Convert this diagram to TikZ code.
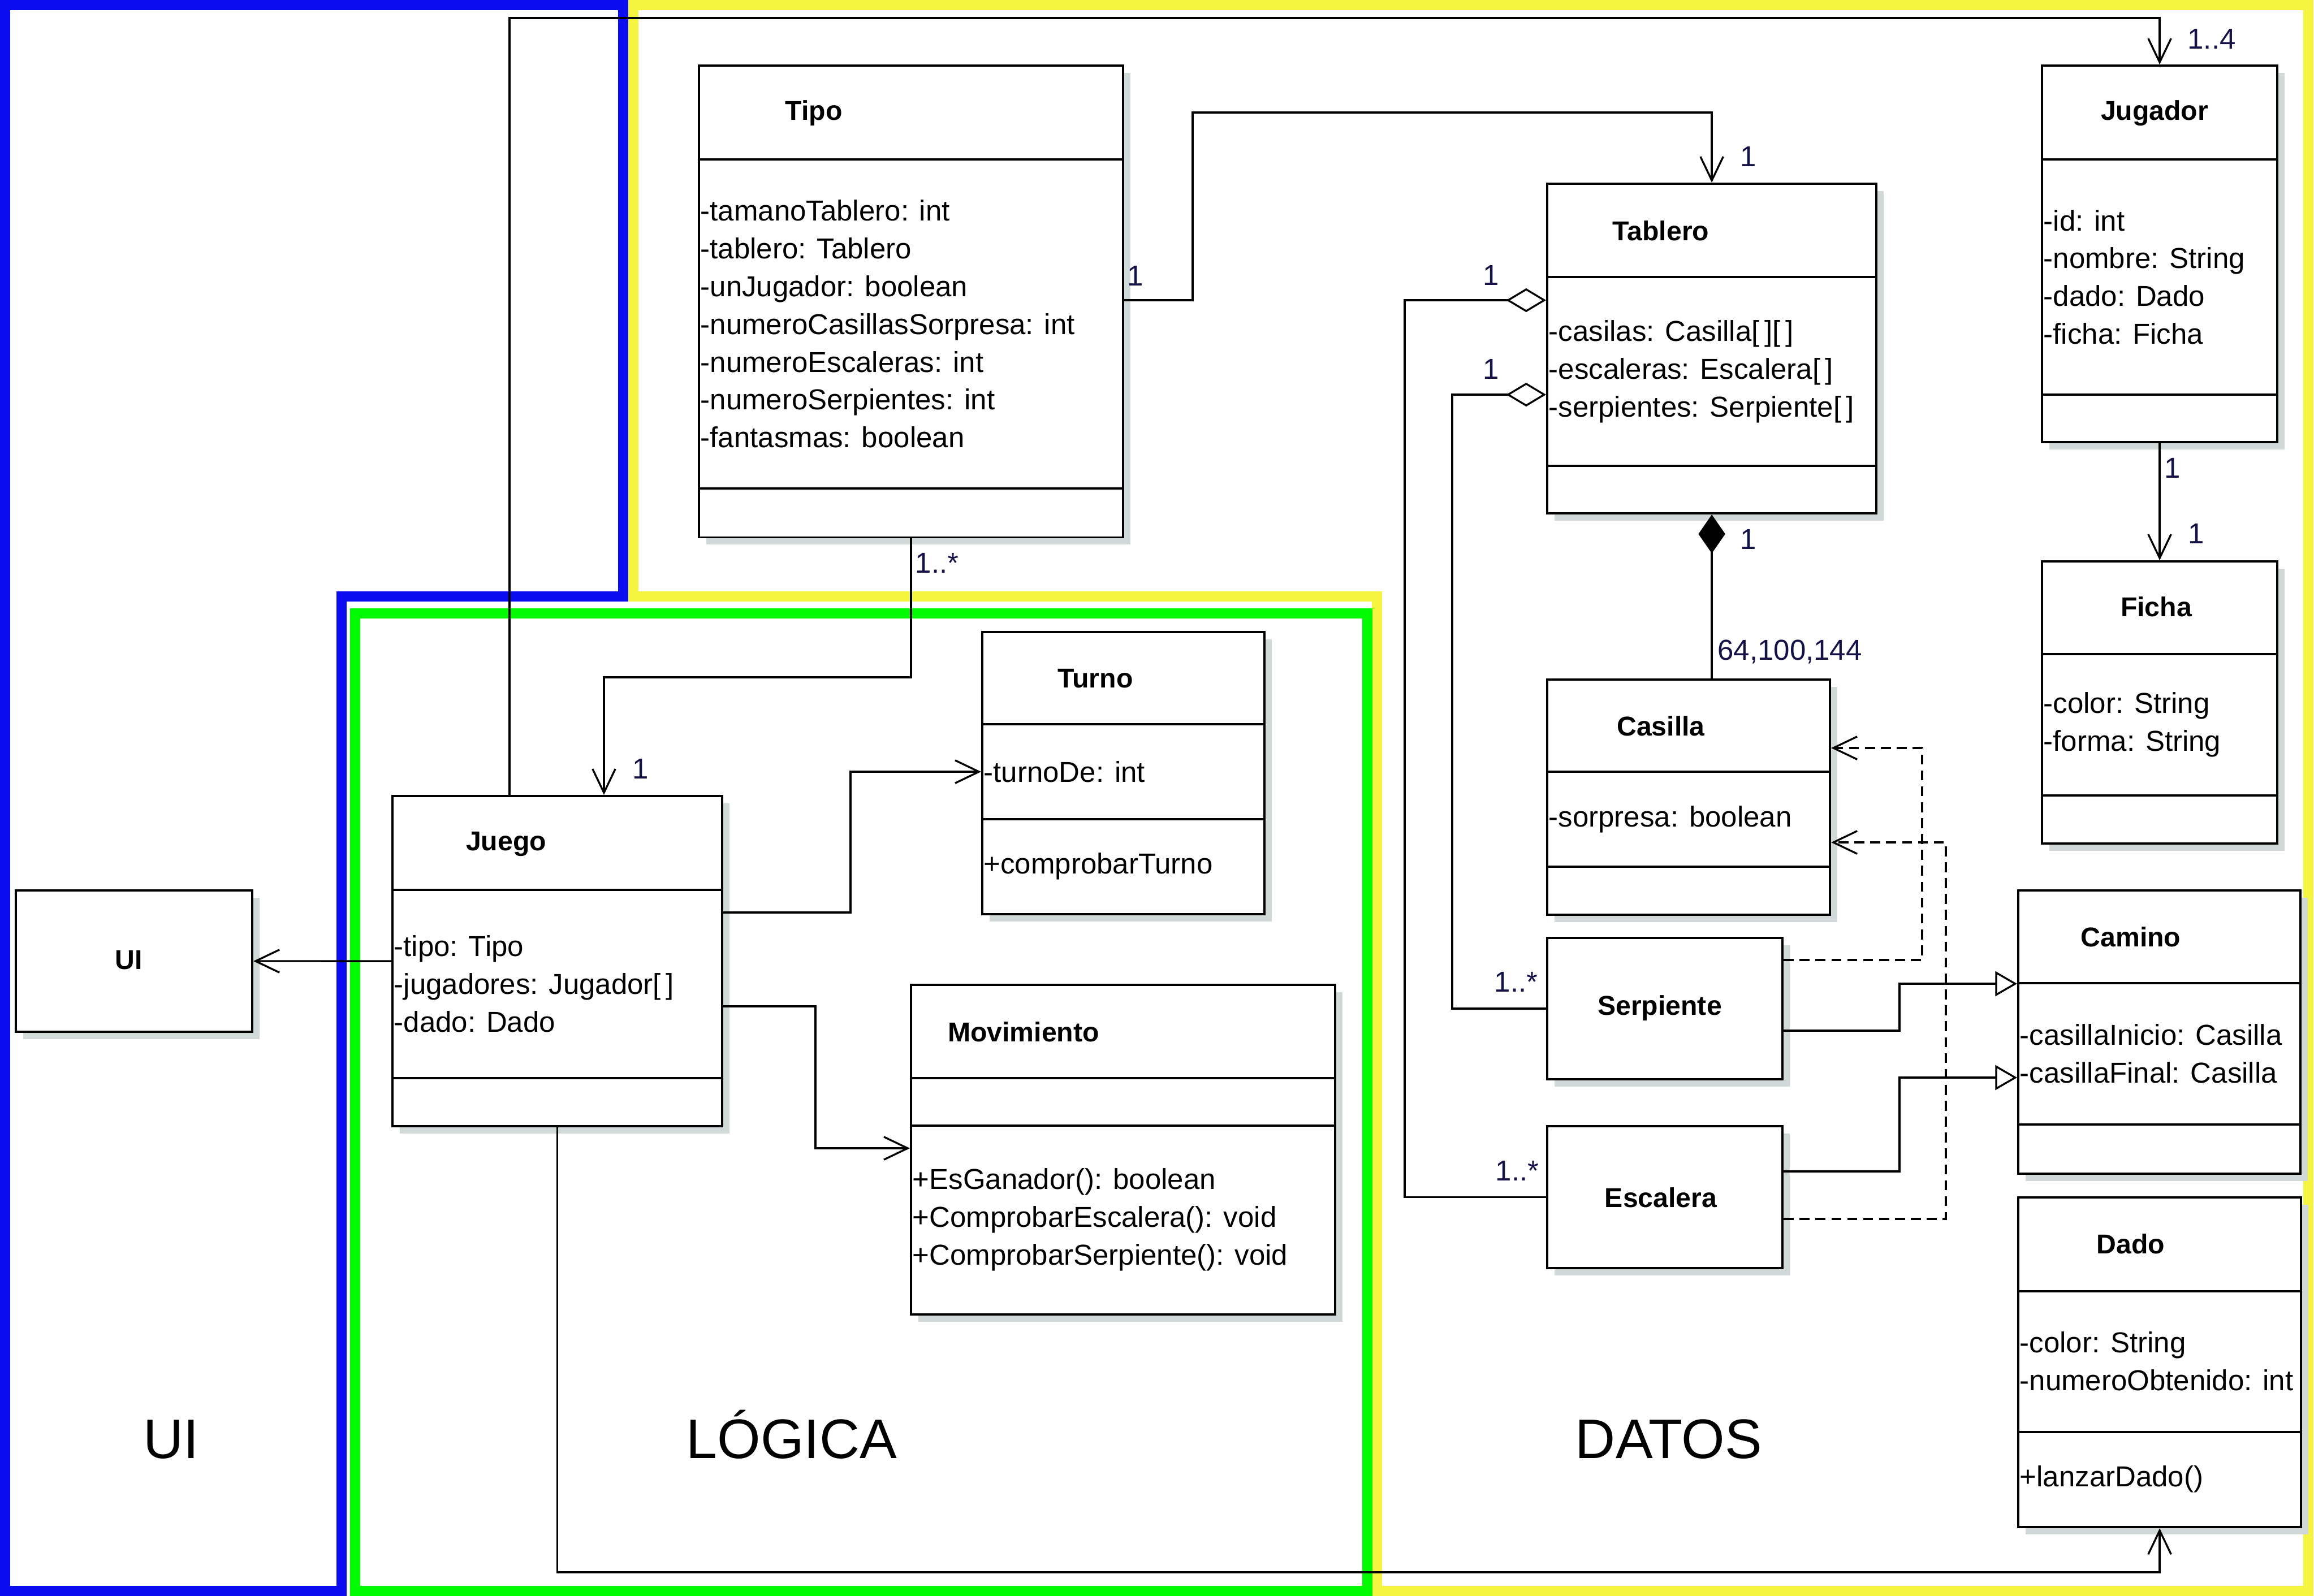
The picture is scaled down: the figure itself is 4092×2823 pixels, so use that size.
\documentclass[tikz,border=0pt]{standalone}
\usepackage{fontspec}
\setmainfont{Liberation Sans}
\usetikzlibrary{arrows.meta,shadows}

\definecolor{azul}{RGB}{12,12,240}
\definecolor{amarillo}{RGB}{245,245,64}
\definecolor{verde}{RGB}{0,250,0}
\definecolor{sombra}{RGB}{208,216,216}
\definecolor{multcolor}{RGB}{20,18,70}

\begin{document}
\begin{tikzpicture}[x=0.01cm, y=-0.01cm,
    caja/.style={draw, line width=1.1pt, fill=white, inner sep=0pt, anchor=north west,
      drop shadow={shadow xshift=0.13cm, shadow yshift=-0.13cm, fill=sombra, opacity=1}},
    linea/.style={line width=1.1pt},
    titulo/.style={font=\fontsize{13.7}{19}\selectfont\bfseries, inner sep=0pt},
    texto/.style={font=\fontsize{14.5}{19}\selectfont, align=left, anchor=west, inner sep=0pt},
    multi/.style={font=\fontsize{14.5}{19}\selectfont, text=multcolor, inner sep=0pt},
    zona/.style={font=\fontsize{28}{34}\selectfont, inner sep=0pt, anchor=base},
    marco/.style={line width=5.1pt},
    con/.style={line width=0.95pt},
    flecha/.style={con, -{Straight Barb[length=12pt, width=11.5pt]}},
    depen/.style={flecha, dash pattern=on 5pt off 3pt},
    hereda/.style={con, -{Triangle[open, length=11pt, width=12.5pt]}},
    agrega/.style={con, {Diamond[open, length=20pt, width=12pt]}-},
    compone/.style={con, {Diamond[length=19.5pt, width=13.5pt]}-}]

    \useasboundingbox (0,0) rectangle (4092,2823);

    % Zones
    \draw[marco, azul] (9,9) -- (1102,9) -- (1102,1055) -- (604,1055) -- (604,2814) -- (9,2814) -- cycle;
    \draw[marco, amarillo] (1120,9) -- (4082,9) -- (4082,2814) -- (2435,2814) -- (2435,1055) -- (1120,1055) -- cycle;
    \draw[marco, verde] (628,1085) rectangle (2418,2814);
    \node[zona] (z-ui) at (303,2579) {UI};
    \node[zona] (z-logica) at (1400,2579) {LÓGICA};
    \node[zona] (z-datos) at (2951,2579) {DATOS};

    % UI
    \node[caja, minimum width=4.18cm, minimum height=2.50cm] (ui) at (26,1573) {};
    \node[titulo] (ui-t) at (228,1698) {UI};

    % Juego
    \node[caja, minimum width=5.83cm, minimum height=5.84cm] (juego) at (692,1406) {};
    \draw[linea] (juego.west |- 0,1574) -- (juego.east |- 0,1574) (juego.west |- 0,1907) -- (juego.east |- 0,1907);
    \node[titulo] (juego-t) at (895,1493) {Juego};
    \node[texto] (juego-a) at (696,1740) {-tipo: Tipo\\-jugadores: Jugador[\,]\\-dado: Dado};

    % Turno
    \node[caja, minimum width=4.99cm, minimum height=4.99cm] (turno) at (1735,1116) {};
    \draw[linea] (turno.west |- 0,1281) -- (turno.east |- 0,1281) (turno.west |- 0,1449) -- (turno.east |- 0,1449);
    \node[titulo] (turno-t) at (1937,1200) {Turno};
    \node[texto] (turno-a) at (1739,1365) {-turnoDe: int};
    \node[texto] (turno-m) at (1739,1532) {+comprobarTurno};

    % Movimiento
    \node[caja, minimum width=7.50cm, minimum height=5.83cm] (movimiento) at (1609,1740) {};
    \draw[linea] (movimiento.west |- 0,1907) -- (movimiento.east |- 0,1907) (movimiento.west |- 0,1991) -- (movimiento.east |- 0,1991);
    \node[titulo] (movimiento-t) at (1810,1825) {Movimiento};
    \node[texto] (movimiento-m) at (1613,2157) {+EsGanador(): boolean\\+ComprobarEscalera(): void\\+ComprobarSerpiente(): void};

    % Tipo
    \node[caja, minimum width=7.50cm, minimum height=8.34cm] (tipo) at (1234,114) {};
    \draw[linea] (tipo.west |- 0,282) -- (tipo.east |- 0,282) (tipo.west |- 0,864) -- (tipo.east |- 0,864);
    \node[titulo] (tipo-t) at (1439,200) {Tipo};
    \node[texto] (tipo-a) at (1238,573) {-tamanoTablero: int\\-tablero: Tablero\\-unJugador: boolean\\-numeroCasillasSorpresa: int\\-numeroEscaleras: int\\-numeroSerpientes: int\\-fantasmas: boolean};

    % Tablero
    \node[caja, minimum width=5.82cm, minimum height=5.83cm] (tablero) at (2734,323) {};
    \draw[linea] (tablero.west |- 0,490) -- (tablero.east |- 0,490) (tablero.west |- 0,824) -- (tablero.east |- 0,824);
    \node[titulo] (tablero-t) at (2937,408) {Tablero};
    \node[texto] (tablero-a) at (2738,657) {-casilas: Casilla[\,][\,]\\-escaleras: Escalera[\,]\\-serpientes: Serpiente[\,]};

    % Jugador
    \node[caja, minimum width=4.16cm, minimum height=6.66cm] (jugador) at (3609,114) {};
    \draw[linea] (jugador.west |- 0,282) -- (jugador.east |- 0,282) (jugador.west |- 0,698) -- (jugador.east |- 0,698);
    \node[titulo] (jugador-t) at (3810,200) {Jugador};
    \node[texto] (jugador-a) at (3613,490) {-id: int\\-nombre: String\\-dado: Dado\\-ficha: Ficha};

    % Ficha
    \node[caja, minimum width=4.16cm, minimum height=4.99cm] (ficha) at (3609,991) {};
    \draw[linea] (ficha.west |- 0,1157) -- (ficha.east |- 0,1157) (ficha.west |- 0,1407) -- (ficha.east |- 0,1407);
    \node[titulo] (ficha-t) at (3813,1073) {Ficha};
    \node[texto] (ficha-a) at (3613,1282) {-color: String\\-forma: String};

    % Casilla
    \node[caja, minimum width=5.00cm, minimum height=4.16cm] (casilla) at (2734,1200) {};
    \draw[linea] (casilla.west |- 0,1365) -- (casilla.east |- 0,1365) (casilla.west |- 0,1533) -- (casilla.east |- 0,1533);
    \node[titulo] (casilla-t) at (2937,1284) {Casilla};
    \node[texto] (casilla-a) at (2738,1449) {-sorpresa: boolean};

    % Serpiente, Escalera
    \node[caja, minimum width=4.16cm, minimum height=2.50cm] (serpiente) at (2734,1657) {};
    \node[titulo] (serpiente-t) at (2935,1783) {Serpiente};
    \node[caja, minimum width=4.16cm, minimum height=2.51cm] (escalera) at (2734,1990) {};
    \node[titulo] (escalera-t) at (2937,2118) {Escalera};

    % Camino
    \node[caja, minimum width=4.99cm, minimum height=5.01cm] (camino) at (3567,1573) {};
    \draw[linea] (camino.west |- 0,1739) -- (camino.east |- 0,1739) (camino.west |- 0,1989) -- (camino.east |- 0,1989);
    \node[titulo] (camino-t) at (3768,1657) {Camino};
    \node[texto] (camino-a) at (3571,1864) {-casillaInicio: Casilla\\-casillaFinal: Casilla};

    % Dado
    \node[caja, minimum width=5.00cm, minimum height=5.83cm] (dado) at (3567,2116) {};
    \draw[linea] (dado.west |- 0,2284) -- (dado.east |- 0,2284) (dado.west |- 0,2533) -- (dado.east |- 0,2533);
    \node[titulo] (dado-t) at (3768,2200) {Dado};
    \node[texto] (dado-a) at (3571,2408) {-color: String\\-numeroObtenido: int};
    \node[texto] (dado-m) at (3571,2616) {+lanzarDado()};

    % Associations
    \draw[flecha] (juego.north -| 901,0) |- (jugador.north |- 0,32) -- (jugador.north);
    \draw[flecha] (tipo.east |- 0,531) -| (2109,199) -| (tablero.north);
    \draw[flecha] (tipo.south) |- (1068,1198) -- (juego.north -| 1068,0);
    \draw[flecha] (juego.west) -- (ui.east);
    \draw[flecha] (juego.east |- 0,1614) -| (1504,1365) -- (turno.west |- 0,1365);
    \draw[flecha] (juego.east |- 0,1780) -| (1442,2031) -- (movimiento.west |- 0,2031);
    \draw[flecha] (juego.south) |- (dado.south |- 0,2781) -- (dado.south);
    \draw[flecha] (jugador.south) -- (ficha.north);

    % Aggregation, composition
    \draw[compone] (tablero.south) -- (casilla.north -| tablero.south);
    \draw[agrega] (tablero.west |- 0,531) -- (2484,531) |- (escalera.west);
    \draw[agrega] (tablero.west |- 0,698) -- (2568,698) |- (serpiente.west);

    % Dependencies
    \draw[depen] (serpiente.east |- 0,1698) -| (3399,1323) -- (casilla.east |- 0,1323);
    \draw[depen] (escalera.east |- 0,2156) -| (3441,1490) -- (casilla.east |- 0,1490);

    % Generalization
    \draw[hereda] (serpiente.east |- 0,1823) -| (3359,1740) -- (camino.west |- 0,1740);
    \draw[hereda] (escalera.east |- 0,2072) -| (3359,1906) -- (camino.west |- 0,1906);

    % Multiplicities
    \node[multi] (m-jug) at (3911,69) {1..4};
    \node[multi] (m-tipo1) at (2008,488) {1};
    \node[multi] (m-tab1) at (3092,277) {1};
    \node[multi] (m-tipo2) at (1657,996) {1..*};
    \node[multi] (m-jue) at (1133,1360) {1};
    \node[multi] (m-jug2) at (3842,828) {1};
    \node[multi] (m-fic) at (3884,944) {1};
    \node[multi] (m-tab2) at (3092,954) {1};
    \node[multi] (m-cas) at (3165,1153) {64,100,144};
    \node[multi] (m-tab3) at (2637,487) {1};
    \node[multi] (m-esc) at (2683,2071) {1..*};
    \node[multi] (m-tab4) at (2637,653) {1};
    \node[multi] (m-ser) at (2681,1737) {1..*};

\end{tikzpicture}
\end{document}
